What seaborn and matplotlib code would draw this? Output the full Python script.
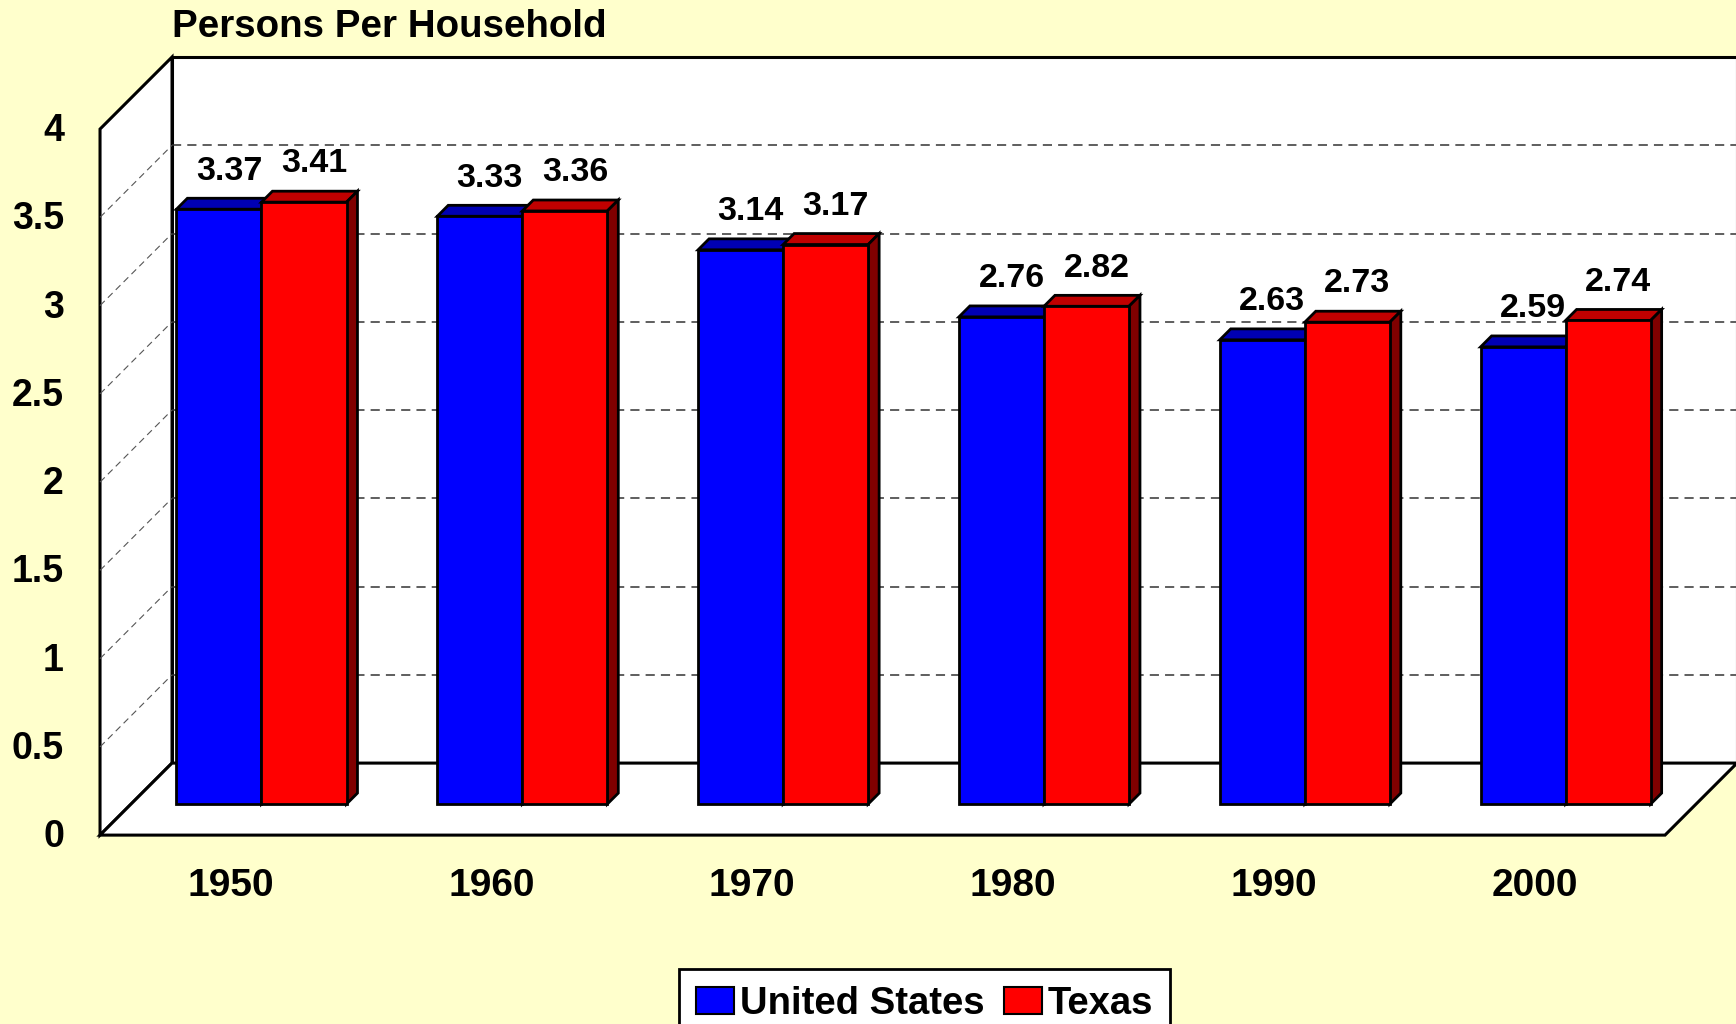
import pandas as pd
import matplotlib
matplotlib.use('Agg')
import matplotlib.pyplot as plt
from matplotlib.patches import Polygon, Patch
import seaborn as sns

years = ['1950', '1960', '1970', '1980', '1990', '2000']
us = [3.37, 3.33, 3.14, 2.76, 2.63, 2.59]
texas = [3.41, 3.36, 3.17, 2.82, 2.73, 2.74]
series = ['United States', 'Texas']
y_ticks = [0, 0.5, 1, 1.5, 2, 2.5, 3, 3.5, 4]
y_labels = ['0', '0.5', '1', '1.5', '2', '2.5', '3', '3.5', '4']

plt.rcParams['font.family'] = ['Liberation Sans', 'DejaVu Sans']
plt.rcParams['font.weight'] = 'bold'

face = {'United States': '#0000FF', 'Texas': '#FF0000'}
top_col = {'United States': '#0000B4', 'Texas': '#C00000'}
side_col = {'United States': '#000080', 'Texas': '#800000'}

df = pd.DataFrame({
    'year': years * 2,
    'value': us + texas,
    'region': ['United States'] * len(years) + ['Texas'] * len(years),
})

fig = plt.figure(figsize=(17.36, 10.24), dpi=100, facecolor='#FFFFCC')
ax = fig.add_axes([0.0755, 0.2148, 0.9015, 0.6895])

# depth offsets (data units) of back wall / front edge / bar depth
bx, by = 0.157, 0.232
fx, fy = -0.119, -0.176
dx, dy = 0.042, 0.062
x0, x1, ymax = -0.5, len(years) - 0.5, 4

# walls
walls = [
    [(x0 + bx, by), (x1 + bx, by), (x1 + bx, ymax + by), (x0 + bx, ymax + by)],
    [(x0 + fx, fy), (x0 + bx, by), (x0 + bx, ymax + by), (x0 + fx, ymax + fy)],
    [(x0 + fx, fy), (x1 + fx, fy), (x1 + bx, by), (x0 + bx, by)],
]
for w in walls:
    ax.add_patch(Polygon(w, closed=True, facecolor='white', edgecolor='black',
                         lw=2.2, zorder=0, clip_on=False, joinstyle='miter'))

for v in y_ticks[1:-1]:
    ax.plot([x0 + bx, x1 + bx], [v + by, v + by], ls=(0, (6, 4)), color='#333333',
            lw=1.1, zorder=0.5, clip_on=False)
    ax.plot([x0 + fx, x0 + bx], [v + fy, v + by], ls=(0, (6, 4)), color='#555555',
            lw=0.8, zorder=0.5, clip_on=False)

sns.barplot(data=df, x='year', y='value', hue='region', palette=face,
            width=0.652, edgecolor='black', linewidth=2, legend=False,
            saturation=1, ax=ax, zorder=2)

# 3D tops and sides
for k, cont in enumerate(ax.containers):
    name = series[k]
    for p in cont.patches:
        x, w, h = p.get_x(), p.get_width(), p.get_height()
        p.set_clip_on(False)
        top = [(x, h), (x + w, h), (x + w + dx, h + dy), (x + dx, h + dy)]
        side = [(x + w, 0), (x + w + dx, dy), (x + w + dx, h + dy), (x + w, h)]
        z = 2 + k
        p.set_zorder(z + 0.5)
        ax.add_patch(Polygon(top, facecolor=top_col[name], edgecolor='black', lw=2,
                             zorder=z, clip_on=False, joinstyle='miter'))
        ax.add_patch(Polygon(side, facecolor=side_col[name], edgecolor='black', lw=2,
                             zorder=z, clip_on=False, joinstyle='miter'))
        ax.annotate(f'{h:.2f}', (x + w / 2, h), xytext=(7.2, 27.5),
                    textcoords='offset points', ha='center', va='center',
                    fontsize=24.5, fontweight='bold', zorder=5,
                    annotation_clip=False)

ax.set_xlim(x0, x1)
ax.set_ylim(0, ymax)
ax.axis('off')

for v, lab in zip(y_ticks, y_labels):
    ax.annotate(lab, (x0 + fx, v + fy), xytext=(-26, -1.5), textcoords='offset points',
                ha='right', va='center', fontsize=27, fontweight='bold',
                annotation_clip=False)

for i, yr in enumerate(years):
    ax.annotate(yr, (i + fx, fy), xytext=(0, -37), textcoords='offset points',
                ha='center', va='center', fontsize=28, fontweight='bold',
                annotation_clip=False)

fig.text(172 / 1736, 1 - 27 / 1024, 'Persons Per Household', ha='left', va='center',
         fontsize=27.7, fontweight='bold')

handles = [Patch(facecolor=face[s], edgecolor='black', lw=1.5, label=s) for s in series]
leg = fig.legend(handles=handles, loc='upper center', ncol=2,
                 bbox_to_anchor=(924.5 / 1736, 1 - 969 / 1024),
                 prop={'size': 27.5, 'weight': 'bold'}, frameon=True, fancybox=False,
                 handlelength=1.0, handleheight=0.7, handletextpad=0.15,
                 columnspacing=0.5, borderpad=0.45, borderaxespad=0)
leg.get_frame().set_edgecolor('black')
leg.get_frame().set_linewidth(2)
leg.get_frame().set_facecolor('white')
leg.get_frame().set_alpha(1)

fig.savefig('out.png', dpi=100, facecolor=fig.get_facecolor())
